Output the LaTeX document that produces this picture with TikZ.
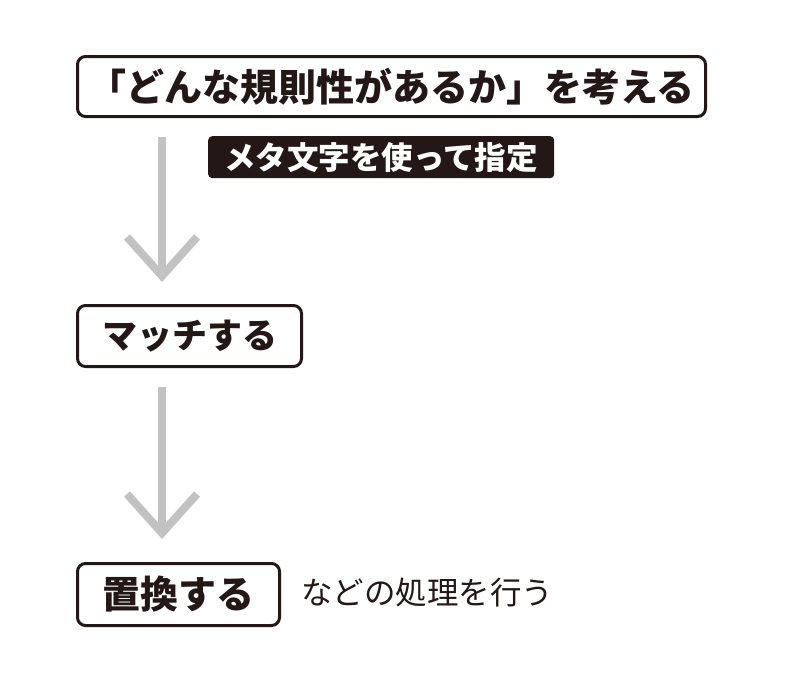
\documentclass[tikz,border=0pt]{standalone}
\usepackage{fontspec}
\newfontfamily\jp{Noto Sans CJK JP}
\definecolor{ink}{HTML}{231815}
\definecolor{arrowgray}{HTML}{C2C2C2}
\begin{document}
\begin{tikzpicture}[x=1pt,y=-1pt,
  stepbox/.style={draw=ink,line width=3pt,rounded corners=8pt,fill=white,inner sep=0pt,font=\jp\bfseries,text=ink,anchor=north west},
  tagbox/.style={fill=ink,rounded corners=4pt,inner sep=0pt,font=\jp\bfseries\fontsize{31.5}{34}\selectfont,text=white,anchor=north west},
  plain/.style={font=\jp\fontsize{31.5}{34}\selectfont,text=ink,anchor=west,inner sep=0pt},
  flow/.style={draw=arrowgray,line width=8pt}]
\useasboundingbox (0,0) rectangle (800,672);
\node[stepbox,minimum width=628pt,minimum height=60pt,font=\jp\bfseries\fontsize{38}{42}\selectfont] (a) at (76,55) {「どんな規則性があるか」を考える};
\node[tagbox,minimum width=346pt,minimum height=42pt] (t) at (208,136) {メタ文字を使って指定};
\node[stepbox,minimum width=224pt,minimum height=61pt,font=\jp\bfseries\fontsize{35}{38}\selectfont] (b) at (76,304) {マッチする};
\node[stepbox,minimum width=202pt,minimum height=62pt,font=\jp\bfseries\fontsize{38}{40}\selectfont] (c) at (76,562) {置換する};
\node[plain] (d) at (301,593) {などの処理を行う};
% arrows
\coordinate (a1s) at (162,137);
\coordinate (a1e) at (162,276);
\draw[flow] (a1s) -- (a1e);
\draw[flow,line join=miter] (127,237) -- (a1e) -- (197,237);
\coordinate (a2s) at (162,387);
\coordinate (a2e) at (162,533);
\draw[flow] (a2s) -- (a2e);
\draw[flow,line join=miter] (127,494) -- (a2e) -- (197,494);
\end{tikzpicture}
\end{document}
